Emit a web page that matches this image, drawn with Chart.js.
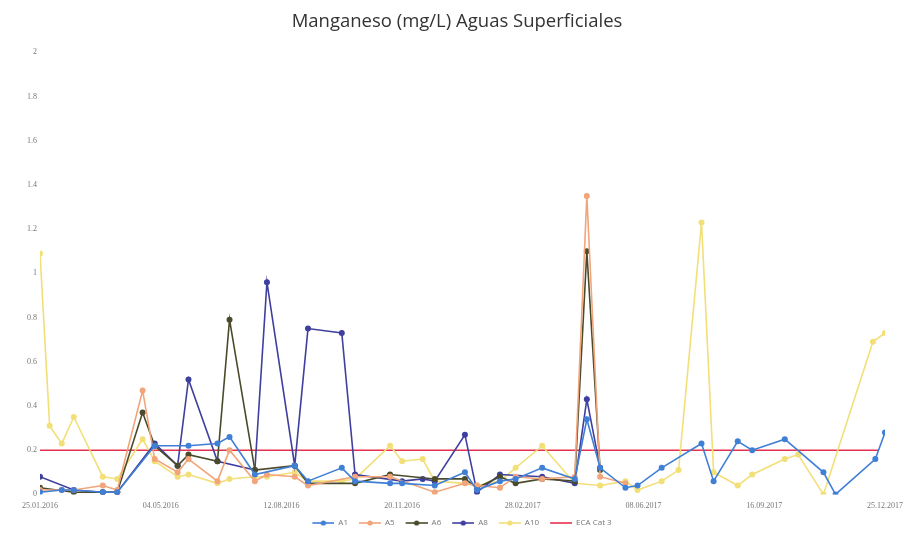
<!DOCTYPE html>
<html>
<head>
<meta charset="utf-8">
<script src="https://cdn.jsdelivr.net/npm/chart.js@4/dist/chart.umd.min.js"></script>
<style>
html,body{margin:0;padding:0;background:#fff;}
#wrap{width:914px;height:542px;}
</style>
</head>
<body>
<div id="wrap"><canvas id="c" width="914" height="542"></canvas></div>
<script>
// X values are days after 25.01.2016
const xTickLabels = ['25.01.2016','04.05.2016','12.08.2016','20.11.2016','28.02.2017','08.06.2017','16.09.2017','25.12.2017'];

const a1Days = [0,18,28,52,64,95,123,147,157,178,211,222,250,261,290,300,327,352,362,381,394,416,443,453,464,485,495,515,548,558,578,590,617,649,659,692,700];
const a1Vals = [0.01,0.02,0.02,0.01,0.01,0.22,0.22,0.23,0.26,0.09,0.13,0.06,0.12,0.06,0.05,0.05,0.04,0.10,0.02,0.06,0.07,0.12,0.07,0.34,0.12,0.03,0.04,0.12,0.23,0.06,0.24,0.20,0.25,0.10,0.00,0.16,0.28];

const a5Days = [0,18,28,52,64,85,95,114,123,147,157,178,188,211,222,261,290,327,352,362,381,394,416,443,453,464,485];
const a5Vals = [0.02,0.02,0.02,0.04,0.02,0.47,0.16,0.10,0.16,0.06,0.20,0.06,0.09,0.08,0.04,0.08,0.08,0.01,0.05,0.04,0.03,0.08,0.07,0.08,1.35,0.08,0.05];

const a6Days = [0,28,52,64,85,95,114,123,147,157,178,211,222,261,290,327,352,362,381,394,416,443,453,464];
const a6Vals = [0.03,0.01,0.01,0.01,0.37,0.22,0.13,0.18,0.15,0.79,0.11,0.13,0.05,0.05,0.09,0.07,0.07,0.03,0.08,0.05,0.07,0.06,1.10,0.11];

const a8Days = [0,28,52,64,95,114,123,147,178,188,211,222,250,261,300,317,327,352,362,381,416,443,453,464];
const a8Vals = [0.08,0.02,0.01,0.01,0.23,0.13,0.52,0.15,0.11,0.96,0.13,0.75,0.73,0.09,0.06,0.07,0.06,0.27,0.01,0.09,0.08,0.05,0.43,0.12];

const a10Days = [0,8,18,28,52,64,85,95,114,123,147,157,178,188,211,222,250,261,290,300,317,327,352,362,381,394,416,443,464,485,495,515,529,548,558,578,590,617,628,649,690,700];
const a10Vals = [1.09,0.31,0.23,0.35,0.08,0.07,0.25,0.15,0.08,0.09,0.05,0.07,0.08,0.08,0.10,0.06,0.06,0.07,0.22,0.15,0.16,0.06,0.05,0.04,0.06,0.12,0.22,0.05,0.04,0.06,0.02,0.06,0.11,1.23,0.10,0.04,0.09,0.16,0.18,0.00,0.69,0.73];

const ecaDays = [0,695];
const ecaVals = [0.2,0.2];

const seriesNames = ['A1','A5','A6','A8','A10','ECA Cat 3'];
const seriesColors = ['#3f7fd6','#f2a57a','#4b4b2c','#3f3f9e','#f3df78','#e5314d'];

function pts(d, v){ return d.map((x,i)=>({x:x, y:v[i]})); }

function ds(i, d, v, radius){
  const color = seriesColors[i];
  return {label:seriesNames[i], data:pts(d,v), borderColor:color, backgroundColor:color,
    borderWidth:1.6, pointRadius:radius, pointHoverRadius:radius, pointBorderWidth:0, tension:0, spanGaps:true};
}

// legend icons: line with marker (Excel style), leading transparent gap for item spacing
function icon(color, withDot){
  const c = document.createElement('canvas');
  c.width = 32; c.height = 8;
  const g = c.getContext('2d');
  g.strokeStyle = color; g.lineWidth = 1.6;
  g.beginPath(); g.moveTo(10,4); g.lineTo(32,4); g.stroke();
  if (withDot){ g.fillStyle = color; g.beginPath(); g.arc(21,4,2.6,0,Math.PI*2); g.fill(); }
  return c;
}
const legendIcons = seriesColors.map((c,i)=> icon(c, i < 5));

new Chart(document.getElementById('c'), {
  type:'line',
  data:{datasets:[
    ds(0, a1Days, a1Vals, 3),
    ds(1, a5Days, a5Vals, 3),
    ds(2, a6Days, a6Vals, 3),
    ds(3, a8Days, a8Vals, 3),
    ds(4, a10Days, a10Vals, 3),
    ds(5, ecaDays, ecaVals, 0)
  ]},
  options:{
    responsive:false, animation:false,
    layout:{padding:{left:0,right:0,top:4,bottom:5}},
    plugins:{
      title:{display:true, text:'Manganeso (mg/L) Aguas Superficiales', color:'#333',
        font:{family:'Open Sans', size:18.5, weight:'normal'}, padding:{top:7,bottom:19}},
      legend:{position:'bottom', labels:{usePointStyle:true, pointStyleWidth:32,
        color:'#777', font:{family:'Open Sans', size:8}, padding:1,
        generateLabels:(chart)=>{
          const items = Chart.defaults.plugins.legend.labels.generateLabels(chart);
          items.forEach((it,i)=>{ it.pointStyle = legendIcons[i]; });
          return items;
        }}},
      tooltip:{enabled:false}
    },
    scales:{
      x:{type:'linear', min:0, max:700,
        ticks:{stepSize:100, color:'#777', padding:7, font:{family:'Liberation Serif', size:8}, maxRotation:0, autoSkip:false,
          callback:(v)=> xTickLabels[Math.round(v/100)] || ''},
        grid:{display:false, drawTicks:false}, border:{display:false},
        afterFit:(s)=>{ s.paddingRight = 29; }},
      y:{min:0, max:2,
        ticks:{stepSize:0.2, color:'#777', font:{family:'Liberation Serif', size:8},
          callback:(v)=> String(Math.round(v*10)/10)},
        grid:{display:false, drawTicks:false}, border:{display:false},
        afterFit:(s)=>{ s.width = 40; }}
    }
  }
});
</script>
</body>
</html>
